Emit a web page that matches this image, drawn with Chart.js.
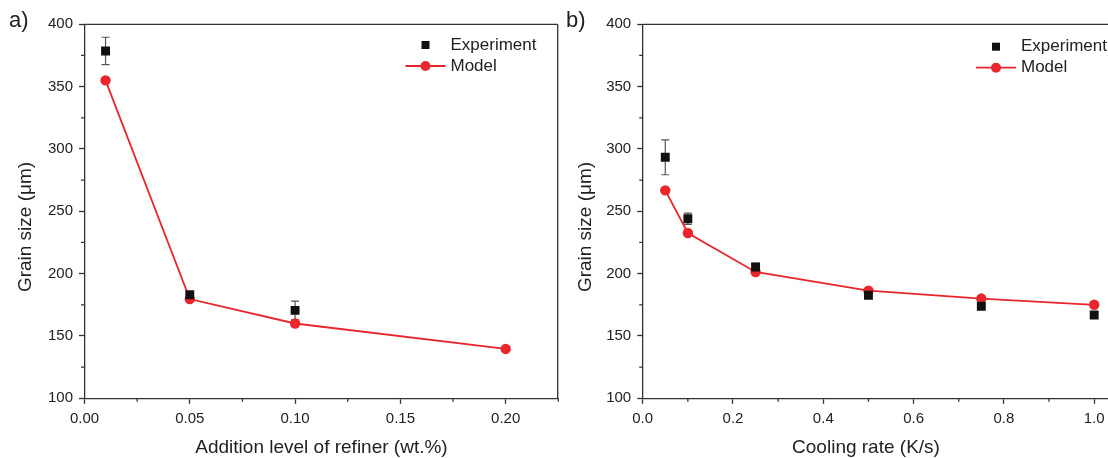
<!DOCTYPE html>
<html>
<head>
<meta charset="utf-8">
<script src="https://cdn.jsdelivr.net/npm/chart.js@4"></script>
<style>
  body { margin: 0; background: #fff; width: 1108px; height: 458px; overflow: hidden; position: relative; font-family: 'Liberation Sans', Arial, sans-serif; }
  .panel { position: absolute; top: 0; height: 458px; }
  .tag { position: absolute; top: 7px; font-size: 22px; color: #222; }
</style>
</head>
<body>
<div class="panel" style="left:0;width:560px"><canvas id="chart-a" width="560" height="458"></canvas></div>
<div class="panel" style="left:560px;width:548px"><canvas id="chart-b" width="548" height="458"></canvas></div>
<div class="tag" style="left:9px">a)</div>
<div class="tag" style="left:566px">b)</div>
<script>
// panel a - refiner addition
const refinerExpX = [0.01, 0.05, 0.10]
const refinerExpY = [378.6, 183, 170.5]
const refinerExpErr = [11, 2, 7.5]
const refinerModelX = [0.01, 0.05, 0.10, 0.20]
const refinerModelY = [355, 179.6, 160, 139.6]

// panel b - cooling rate
const coolingExpX = [0.05, 0.1, 0.25, 0.5, 0.75, 1.0]
const coolingExpY = [293.3, 244, 205.3, 182.6, 173.8, 166.8]
const coolingExpErr = [14, 4.5, 3, 2, 2, 2]
const coolingModelX = [0.05, 0.1, 0.25, 0.5, 0.75, 1.0]
const coolingModelY = [266.8, 232.6, 201.3, 186.4, 180, 175]

const yMinorTicks = [125, 175, 225, 275, 325, 375]
const refinerMinorTicks = [0.025, 0.075, 0.125, 0.175, 0.225]
const coolingMinorTicks = [0.1, 0.3, 0.5, 0.7, 0.9]

const RED = '#e8262b'
const INK = '#222'
const AXIS = '#333'
const FONT = "'Liberation Sans', Arial, sans-serif"

const toPoints = (xs, ys) => xs.map((x, i) => ({ x, y: ys[i] }))

// error bars, minor ticks, frame, titles and legend
const extrasPlugin = {
  id: 'extras',
  beforeDatasetsDraw (chart, args, opts) {
    const { ctx, scales: { x, y } } = chart
    ctx.save()
    ctx.strokeStyle = '#555'
    ctx.lineWidth = 1.2
    opts.errX.forEach((v, i) => {
      const px = x.getPixelForValue(v)
      const top = y.getPixelForValue(opts.errY[i] + opts.err[i])
      const bot = y.getPixelForValue(opts.errY[i] - opts.err[i])
      ctx.beginPath()
      ctx.moveTo(px, top); ctx.lineTo(px, bot)
      ctx.moveTo(px - 4, top); ctx.lineTo(px + 4, top)
      ctx.moveTo(px - 4, bot); ctx.lineTo(px + 4, bot)
      ctx.stroke()
    })
    ctx.restore()
  },
  afterDraw (chart, args, opts) {
    const { ctx, chartArea: a, scales: { x, y } } = chart
    ctx.save()
    ctx.strokeStyle = AXIS
    ctx.lineWidth = 1.3
    ctx.beginPath()
    yMinorTicks.forEach((v) => {
      const py = y.getPixelForValue(v)
      ctx.moveTo(a.left - 3.5, py); ctx.lineTo(a.left, py)
    })
    opts.xMinor.forEach((v) => {
      const px = x.getPixelForValue(v)
      if (px > a.right + 1) return
      ctx.moveTo(px, a.bottom); ctx.lineTo(px, a.bottom + 3.5)
    })
    // frame top / right
    ctx.moveTo(a.left, a.top); ctx.lineTo(opts.rightBorder ? a.right : chart.width, a.top)
    if (opts.rightBorder) { ctx.moveTo(a.right, a.top); ctx.lineTo(a.right, a.bottom) }
    ctx.stroke()

    // axis titles
    ctx.fillStyle = INK
    ctx.font = '19px ' + FONT
    ctx.textAlign = 'center'
    ctx.textBaseline = 'middle'
    ctx.fillText(opts.xTitle, opts.xTitlePos, 448)
    ctx.save()
    ctx.translate(26, 227)
    ctx.rotate(-Math.PI / 2)
    ctx.fillText('Grain size (μm)', 0, 0)
    ctx.restore()

    // legend
    const lx = opts.legend.x
    const ly = opts.legend.y
    ctx.fillStyle = '#111'
    ctx.fillRect(lx - 4, ly - 4, 8, 8)
    ctx.strokeStyle = RED
    ctx.lineWidth = 1.8
    ctx.beginPath()
    ctx.moveTo(lx - 20, ly + 21); ctx.lineTo(lx + 20, ly + 21)
    ctx.stroke()
    ctx.fillStyle = RED
    ctx.beginPath()
    ctx.arc(lx, ly + 21, 5, 0, Math.PI * 2)
    ctx.fill()
    ctx.fillStyle = INK
    ctx.font = '17px ' + FONT
    ctx.textAlign = 'left'
    ctx.fillText('Experiment', lx + 25, ly)
    ctx.fillText('Model', lx + 25, ly + 21)
    ctx.restore()
  }
}

const makeChart = (canvas, cfg) => new Chart(canvas, {
  type: 'scatter',
  data: {
    datasets: [
      {
        label: 'Model',
        data: toPoints(cfg.modelX, cfg.modelY),
        showLine: true,
        borderColor: RED,
        backgroundColor: RED,
        borderWidth: 1.8,
        pointRadius: 5.2,
        pointHoverRadius: 5.2,
        pointBorderWidth: 0,
        order: 2
      },
      {
        label: 'Experiment',
        data: toPoints(cfg.expX, cfg.expY),
        pointStyle: 'rect',
        backgroundColor: '#111',
        borderColor: '#111',
        pointRadius: 6.3,
        pointBorderWidth: 0,
        order: 1
      }
    ]
  },
  options: {
    responsive: false,
    animation: false,
    events: [],
    layout: { autoPadding: false, padding: { top: 24.3, right: cfg.padRight, left: 0, bottom: 0 } },
    plugins: {
      legend: { display: false },
      tooltip: { enabled: false },
      extras: {
        errX: cfg.expX, errY: cfg.expY, err: cfg.err,
        xMinor: cfg.xMinor, rightBorder: cfg.rightBorder, legend: cfg.legend,
        xTitle: cfg.xTitle, xTitlePos: cfg.xTitlePos
      }
    },
    scales: {
      x: {
        type: 'linear',
        min: 0,
        max: cfg.xMax,
        afterFit: (s) => { s.height = 59.7; s.paddingRight = 0; s.paddingLeft = 0 },
        grid: { drawOnChartArea: false, drawTicks: true, tickLength: 5.5, tickColor: AXIS, tickWidth: 1.3 },
        border: { color: AXIS, width: 1.3 },
        ticks: {
          stepSize: cfg.xStep,
          includeBounds: false,
          maxRotation: 0,
          autoSkip: false,
          padding: 6,
          color: INK,
          font: { family: FONT, size: 15 },
          callback: (v) => v.toFixed(cfg.xDigits)
        },
        title: { display: false }
      },
      y: {
        min: 100,
        max: 400,
        afterFit: (s) => { s.width = cfg.axisLeft },
        grid: { drawOnChartArea: false, drawTicks: true, tickLength: 5.5, tickColor: AXIS, tickWidth: 1.3 },
        border: { color: AXIS, width: 1.3 },
        ticks: { stepSize: 50, padding: 6, color: INK, font: { family: FONT, size: 15 } },
        title: { display: false }
      }
    }
  },
  plugins: [extrasPlugin]
})

makeChart(document.getElementById('chart-a'), {
  expX: refinerExpX, expY: refinerExpY, err: refinerExpErr,
  modelX: refinerModelX, modelY: refinerModelY,
  xMax: 0.2247, xStep: 0.05, xDigits: 2, xMinor: refinerMinorTicks,
  xTitle: 'Addition level of refiner (wt.%)', xTitlePos: 321.5,
  axisLeft: 84.5, padRight: 2.3, rightBorder: true,
  legend: { x: 425.5, y: 45 }
})

makeChart(document.getElementById('chart-b'), {
  expX: coolingExpX, expY: coolingExpY, err: coolingExpErr,
  modelX: coolingModelX, modelY: coolingModelY,
  xMax: 1.0306, xStep: 0.2, xDigits: 1, xMinor: coolingMinorTicks,
  xTitle: 'Cooling rate (K/s)', xTitlePos: 306,
  axisLeft: 82.7, padRight: 0, rightBorder: false,
  legend: { x: 436, y: 46.7 }
})
</script>
</body>
</html>
